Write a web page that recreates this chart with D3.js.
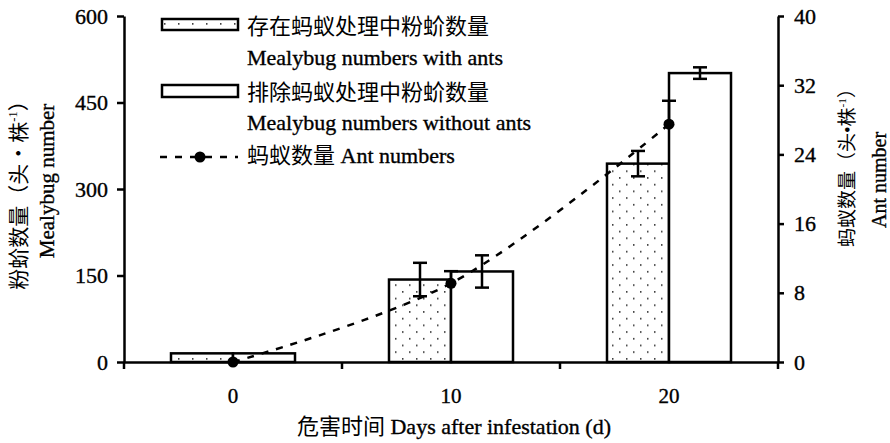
<!DOCTYPE html>
<html><head><meta charset="utf-8">
<script src="https://cdn.jsdelivr.net/npm/d3@7"></script>
<style>
body{margin:0;background:#fff}
svg{display:block}
text{font-family:"Liberation Serif","Noto Sans CJK SC",serif;fill:#000}
.lat{stroke:#000;stroke-width:0.35px}
</style>
</head><body><svg id="c" width="890" height="443"></svg>
<script>
// ---- data ----
const categories = ["0", "10", "20"];
const withAnts = [15, 143, 344];
const withAntsErr = [0, 29, 22];
const withoutAnts = [15, 157, 501];
const withoutAntsErr = [0, 28, 10];
const antNumbers = [0, 9.1, 27.5];
const antErrUp = [0, 1.4, 2.7];
const leftTicks = [0, 150, 300, 450, 600];
const rightTicks = [0, 8, 16, 24, 32, 40];
const legendCN = ["存在蚂蚁处理中粉蚧数量", "排除蚂蚁处理中粉蚧数量", "蚂蚁数量"];
const legendEN = ["Mealybug numbers with ants", "Mealybug numbers without ants", "Ant numbers"];
const xTitleCN = "危害时间";
const xTitleEN = "Days after infestation (d)";

// ---- layout ----
const svg = d3.select("#c");
const L = 124, R = 778, T = 16, B = 362;
const x = d3.scaleBand().domain(categories).range([L, R]);
const sub = d3.scaleBand().domain(["with", "without"]).range([0, x.bandwidth()]).paddingOuter(0.758);
const y = d3.scaleLinear().domain([0, 600]).range([B, T]);
const y2 = d3.scaleLinear().domain([0, 40]).range([B, T]);
const cx = c => x(c) + x.bandwidth() / 2;

const defs = svg.append("defs");
const pat = defs.append("pattern").attr("id", "dots").attr("patternUnits", "userSpaceOnUse")
  .attr("width", 14).attr("height", 13.4);
pat.append("rect").attr("width", 14).attr("height", 13.4).attr("fill", "#fff");
pat.append("rect").attr("x", 3).attr("y", 3).attr("width", 1.5).attr("height", 1.5).attr("fill", "#222");
pat.append("rect").attr("x", 10).attr("y", 9.7).attr("width", 1.5).attr("height", 1.5).attr("fill", "#222");

const SW = 2.5;
const DASH = "7,8";

// bars
const series = [
  {key: "with", vals: withAnts, err: withAntsErr, fill: "url(#dots)"},
  {key: "without", vals: withoutAnts, err: withoutAntsErr, fill: "#fff"}
];
series.forEach(s => {
  svg.append("g").selectAll("rect").data(categories).join("rect")
    .attr("x", c => x(c) + sub(s.key))
    .attr("width", sub.bandwidth())
    .attr("y", (c, i) => y(s.vals[i]))
    .attr("height", (c, i) => B - y(s.vals[i]))
    .attr("fill", s.fill).attr("stroke", "#000").attr("stroke-width", SW);
});

// error bars
series.forEach(s => {
  const g = svg.append("g").attr("stroke", "#000").attr("stroke-width", SW);
  categories.forEach((c, i) => {
    if (!s.err[i]) return;
    const ex = x(c) + sub(s.key) + sub.bandwidth() / 2;
    const y0 = y(s.vals[i] - s.err[i]), y1 = y(s.vals[i] + s.err[i]);
    g.append("line").attr("x1", ex).attr("x2", ex).attr("y1", y0).attr("y2", y1);
    g.append("line").attr("x1", ex - 7).attr("x2", ex + 7).attr("y1", y0).attr("y2", y0);
    g.append("line").attr("x1", ex - 7).attr("x2", ex + 7).attr("y1", y1).attr("y2", y1);
  });
});

// ant line
const line = d3.line().x((d, i) => cx(categories[i])).y(d => y2(d)).curve(d3.curveCatmullRom);
svg.append("path").datum(antNumbers).attr("d", line).attr("fill", "none")
  .attr("stroke", "#000").attr("stroke-width", SW).attr("stroke-dasharray", DASH);
const ge = svg.append("g").attr("stroke", "#000").attr("stroke-width", SW);
categories.forEach((c, i) => {
  if (!antErrUp[i]) return;
  const ex = cx(c), y0 = y2(antNumbers[i]), y1 = y2(antNumbers[i] + antErrUp[i]);
  ge.append("line").attr("x1", ex).attr("x2", ex).attr("y1", y0).attr("y2", y1);
  ge.append("line").attr("x1", ex - 7).attr("x2", ex + 7).attr("y1", y1).attr("y2", y1);
});
svg.append("g").selectAll("circle").data(antNumbers).join("circle")
  .attr("cx", (d, i) => cx(categories[i])).attr("cy", d => y2(d)).attr("r", 5.5).attr("fill", "#000");

// axes
function styleAxis(g, fs) {
  g.select(".domain").attr("stroke-width", SW);
  g.selectAll(".tick line").attr("stroke-width", SW);
  g.selectAll(".tick text").attr("font-size", fs).attr("font-family", "Liberation Serif").attr("class", "lat");
}
svg.append("g").attr("transform", `translate(${L},0)`)
  .call(d3.axisLeft(y).tickValues(leftTicks).tickSize(7).tickSizeOuter(0).tickPadding(9))
  .call(g => styleAxis(g, 22));
svg.append("g").attr("transform", `translate(${R},0)`)
  .call(d3.axisRight(y2).tickValues(rightTicks).tickSize(6).tickSizeOuter(0).tickPadding(10))
  .call(g => styleAxis(g, 22));
const gx = svg.append("g").attr("transform", `translate(0,${B})`)
  .call(d3.axisBottom(x).tickSize(0).tickSizeOuter(0).tickPadding(26))
  .call(g => styleAxis(g, 21));
gx.selectAll(".tick text").attr("dy", "0.71em");
const bounds = categories.map(c => x(c)).concat([R]);
gx.selectAll(".bnd").data(bounds).join("line").attr("class", "bnd")
  .attr("x1", d => d).attr("x2", d => d).attr("y1", 0).attr("y2", 7)
  .attr("stroke", "#000").attr("stroke-width", SW);

// axis titles
function supTitle(g, main, post) {
  const t = g.append("text");
  t.append("tspan").text(main);
  t.append("tspan").attr("font-size", "0.6em").attr("dy", "-0.7em").text("-1");
  t.append("tspan").attr("dy", "0.42em").text(post);
  return t;
}
const lt = svg.append("g").attr("transform", "translate(26,190) rotate(-90)");
supTitle(lt, "粉蚧数量（头・株", "）").attr("font-size", 21).attr("text-anchor", "middle");
svg.append("text").attr("class", "lat").attr("transform", "translate(54,181) rotate(-90)").attr("text-anchor", "middle")
  .attr("font-size", 21).text("Mealybug number");
const rt = svg.append("g").attr("transform", "translate(854,163) rotate(-90)");
supTitle(rt, "蚂蚁数量（头•株", "）").attr("font-size", 19).attr("text-anchor", "middle");
svg.append("text").attr("class", "lat").attr("transform", "translate(886,180) rotate(-90)").attr("text-anchor", "middle")
  .attr("font-size", 20).text("Ant number");
const xt = svg.append("text").attr("x", 454).attr("y", 434).attr("text-anchor", "middle").attr("font-size", 22);
xt.append("tspan").text(xTitleCN + " ");
xt.append("tspan").attr("class", "lat").text(xTitleEN);

// legend
const lg = svg.append("g");
lg.append("rect").attr("x", 162).attr("y", 19).attr("width", 76).attr("height", 11)
  .attr("fill", "url(#dots)").attr("stroke", "#000").attr("stroke-width", SW);
lg.append("rect").attr("x", 162).attr("y", 85).attr("width", 76).attr("height", 12)
  .attr("fill", "#fff").attr("stroke", "#000").attr("stroke-width", SW);
lg.append("line").attr("x1", 160).attr("x2", 238).attr("y1", 157).attr("y2", 157)
  .attr("stroke", "#000").attr("stroke-width", SW).attr("stroke-dasharray", DASH);
lg.append("circle").attr("cx", 200).attr("cy", 157).attr("r", 5.5).attr("fill", "#000");
lg.append("text").attr("x", 247).attr("y", 34).attr("font-size", 22).text(legendCN[0]);
lg.append("text").attr("x", 247).attr("y", 65).attr("font-size", 22).attr("class", "lat").text(legendEN[0]);
lg.append("text").attr("x", 247).attr("y", 100).attr("font-size", 22).text(legendCN[1]);
lg.append("text").attr("x", 247).attr("y", 130).attr("font-size", 22).attr("class", "lat").text(legendEN[1]);
const l5 = lg.append("text").attr("x", 247).attr("y", 163).attr("font-size", 22);
l5.append("tspan").text(legendCN[2] + " ");
l5.append("tspan").attr("class", "lat").text(legendEN[2]);
</script>
</body></html>
